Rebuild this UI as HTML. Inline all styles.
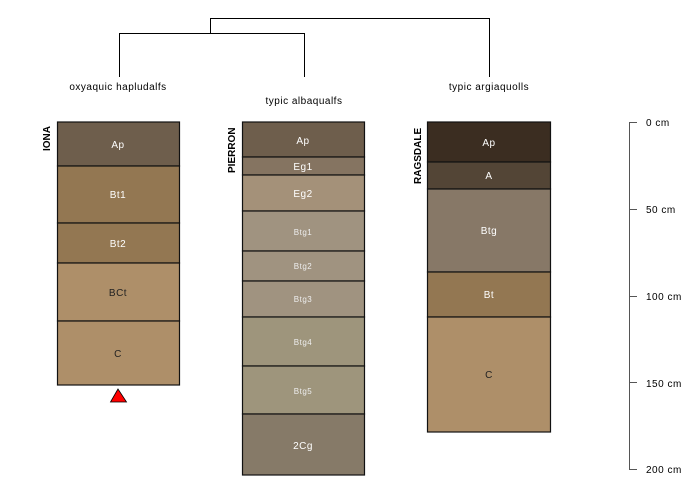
<!DOCTYPE html>
<html><head><style>body{margin:0;background:#fff}svg{display:block}text{font-family:"Liberation Sans",sans-serif;letter-spacing:0.5px}</style></head>
<body>
<svg width="700" height="500" viewBox="0 0 700 500" xmlns="http://www.w3.org/2000/svg">
<g fill="none" stroke="#000" stroke-width="1">
<path d="M210.5 33V18.5H489.5V77"/>
<path d="M119.5 77V33.5H304.5V77"/>
</g>
<g font-size="10" text-anchor="middle" fill="#000">
<text x="118" y="90">oxyaquic hapludalfs</text>
<text x="304" y="104">typic albaqualfs</text>
<text x="489" y="90">typic argiaquolls</text>
</g>
<g font-size="10" font-weight="bold" fill="#000">
<text transform="translate(50,151) rotate(-90)" style="letter-spacing:0">IONA</text>
<text transform="translate(235,173) rotate(-90)" style="letter-spacing:0">PIERRON</text>
<text transform="translate(421,184) rotate(-90)" style="letter-spacing:0">RAGSDALE</text>
</g>
<g stroke="#111" stroke-width="1.2">
<rect x="57.5" y="122" width="122" height="44" fill="#6e5e4c"/>
<rect x="57.5" y="166" width="122" height="57" fill="#937752"/>
<rect x="57.5" y="223" width="122" height="40" fill="#937752"/>
<rect x="57.5" y="263" width="122" height="58" fill="#ae8f69"/>
<rect x="57.5" y="321" width="122" height="64" fill="#ae8f69"/>

<rect x="242.5" y="122" width="122" height="35" fill="#6e5e4c"/>
<rect x="242.5" y="157" width="122" height="18" fill="#857461"/>
<rect x="242.5" y="175" width="122" height="36" fill="#a49179"/>
<rect x="242.5" y="211" width="122" height="40" fill="#a09380"/>
<rect x="242.5" y="251" width="122" height="30" fill="#a09380"/>
<rect x="242.5" y="281" width="122" height="36" fill="#a09380"/>
<rect x="242.5" y="317" width="122" height="49" fill="#9e957c"/>
<rect x="242.5" y="366" width="122" height="48" fill="#9e957c"/>
<rect x="242.5" y="414" width="122" height="61" fill="#867a68"/>

<rect x="427.5" y="122" width="123" height="40" fill="#3b2d21"/>
<rect x="427.5" y="162" width="123" height="27" fill="#534536"/>
<rect x="427.5" y="189" width="123" height="83" fill="#877867"/>
<rect x="427.5" y="272" width="123" height="45" fill="#937752"/>
<rect x="427.5" y="317" width="123" height="115" fill="#ae8f69"/>
</g>
<g font-size="10" text-anchor="middle" fill="#fff">
<text x="118" y="148">Ap</text>
<text x="118" y="198">Bt1</text>
<text x="118" y="247">Bt2</text>
<text x="118" y="296" fill="#222">BCt</text>
<text x="118" y="357" fill="#222">C</text>
<text x="303" y="144">Ap</text>
<text x="303" y="170">Eg1</text>
<text x="303" y="197">Eg2</text>
<text x="303" y="235" font-size="8" fill="#eee">Btg1</text>
<text x="303" y="269" font-size="8" fill="#eee">Btg2</text>
<text x="303" y="302" font-size="8" fill="#eee">Btg3</text>
<text x="303" y="345" font-size="8" fill="#eee">Btg4</text>
<text x="303" y="394" font-size="8" fill="#eee">Btg5</text>
<text x="303" y="449">2Cg</text>
<text x="489" y="146">Ap</text>
<text x="489" y="179">A</text>
<text x="489" y="234">Btg</text>
<text x="489" y="298">Bt</text>
<text x="489" y="378" fill="#222">C</text>
</g>
<polygon points="118,389 110.5,402 126.5,402" fill="#f00" stroke="#000" stroke-width="0.8"/>
<g stroke="#555" stroke-width="1">
<path d="M629.5 122V469"/>
<path d="M629 122.5H637M629 209.5H637M629 296.5H637M629 382.5H637M629 469.5H637"/>
</g>
<g font-size="10" fill="#000" style="letter-spacing:1px">
<text x="646" y="126">0 cm</text>
<text x="646" y="213">50 cm</text>
<text x="646" y="300">100 cm</text>
<text x="646" y="387">150 cm</text>
<text x="646" y="473">200 cm</text>
</g>
</svg>
</body></html>
